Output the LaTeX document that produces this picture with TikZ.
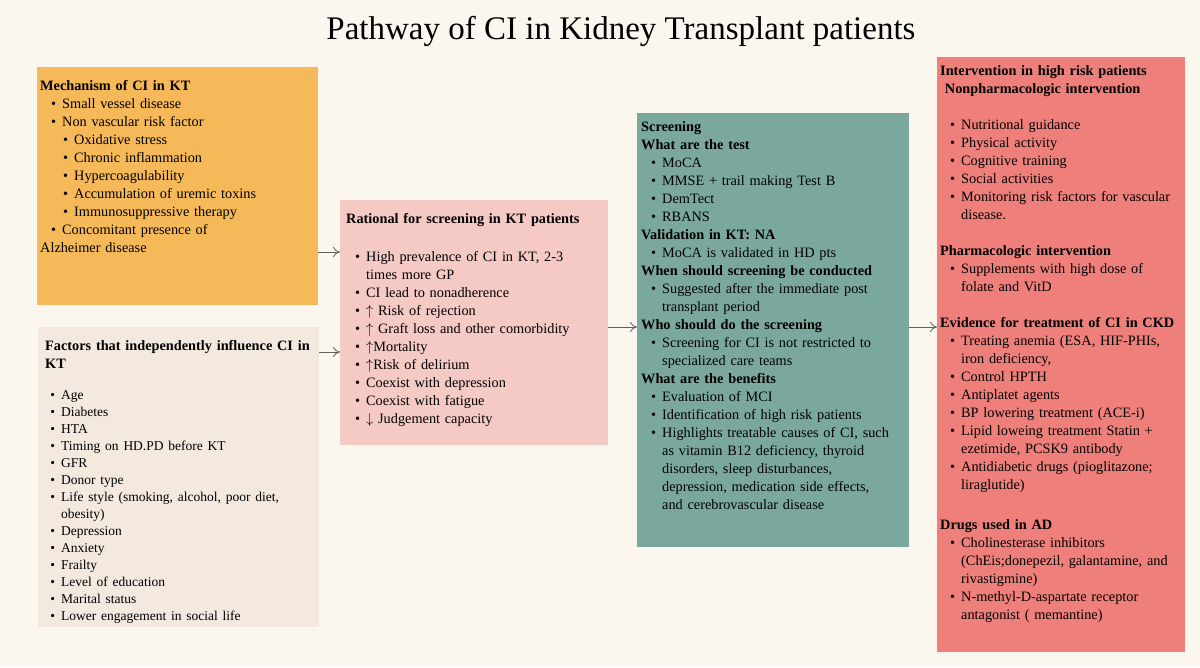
\documentclass[tikz,border=0pt]{standalone}
\usepackage{fontspec}
\setmainfont{Liberation Serif}
\usepackage{enumitem}
\usetikzlibrary{arrows.meta}
\definecolor{bgc}{HTML}{FBF7EF}
\definecolor{orangec}{HTML}{F5B95A}
\definecolor{beigec}{HTML}{F3E9DF}
\definecolor{pinkc}{HTML}{F5C9C4}
\definecolor{tealc}{HTML}{7BA89E}
\definecolor{redc}{HTML}{EE7F7A}
\setlist[itemize]{label=\textbullet,leftmargin=16pt,labelsep=6pt,itemsep=0pt,topsep=0pt,parsep=0pt,partopsep=0pt}
\setlist[itemize,2]{label=\textbullet,leftmargin=12pt}
\tikzset{
 txt/.style={anchor=north west,align=left,inner sep=0pt,font=\fontsize{14.3}{18}\selectfont},
 arr/.style={draw=gray!75!black,line width=0.8pt,-{To[length=7pt,width=10pt]}}
}
\begin{document}
\begin{tikzpicture}[x=1pt,y=-1pt]
\fill[bgc] (0,0) rectangle (1200,667);
\useasboundingbox (0,0) rectangle (1200,667);
\node[font=\fontsize{33}{38}\selectfont] (title) at (621,31) {Pathway of CI in Kidney Transplant patients};
% boxes
\fill[orangec] (37,67) rectangle (318,305);
\fill[beigec] (38,327) rectangle (319,627);
\fill[pinkc] (340,200) rectangle (608,445);
\fill[tealc] (637,113) rectangle (909,547);
\fill[redc] (937,57) rectangle (1185,652);
\coordinate (m) at (318,252); \coordinate (r1) at (340,252);
\coordinate (f) at (319,352); \coordinate (r2) at (340,352);
\coordinate (r) at (608,327); \coordinate (s1) at (637,327);
\coordinate (s) at (909,327); \coordinate (i1) at (937,327);
\draw[arr] (m) -- (r1);
\draw[arr] (f) -- (r2);
\draw[arr] (r) -- (s1);
\draw[arr] (s) -- (i1);
% mechanism
\node[txt,text width=275pt] (mech) at (40,80) {\textbf{Mechanism of CI in KT}
\begin{itemize}[leftmargin=22pt]
\item Small vessel disease
\item Non vascular risk factor
 \begin{itemize}
 \item Oxidative stress
 \item Chronic inflammation
 \item Hypercoagulability
 \item Accumulation of uremic toxins
 \item Immunosuppressive therapy
 \end{itemize}
\item Concomitant presence of
\end{itemize}
Alzheimer disease};
% factors
\node[txt,text width=275pt] (fact) at (45,340) {\textbf{Factors that independently influence CI in}\\\textbf{KT}\\[14pt]
\fontsize{13.5}{17}\selectfont
\begin{itemize}
\item Age
\item Diabetes
\item HTA
\item Timing on HD.PD before KT
\item GFR
\item Donor type
\item Life style (smoking, alcohol, poor diet,\\ obesity)
\item Depression
\item Anxiety
\item Frailty
\item Level of education
\item Marital status
\item Lower engagement in social life
\end{itemize}};
% rational
\node[txt,text width=262pt] (rat) at (346,213) {\textbf{Rational for screening in KT patients}\\[20pt]
\begin{itemize}[leftmargin=20pt]
\item High prevalence of CI in KT, 2-3\\ times more GP
\item CI lead to nonadherence
\item $\uparrow$ Risk of rejection
\item $\uparrow$ Graft loss and other comorbidity
\item $\uparrow$Mortality
\item $\uparrow$Risk of delirium
\item Coexist with depression
\item Coexist with fatigue
\item $\downarrow$ Judgement capacity
\end{itemize}};
% screening
\node[txt,text width=268pt] (scr) at (641,121) {\textbf{Screening}\\\textbf{What are the test}
\begin{itemize}[leftmargin=21pt]
\item MoCA
\item MMSE + trail making Test B
\item DemTect
\item RBANS
\end{itemize}
\textbf{Validation in KT: NA}
\begin{itemize}[leftmargin=21pt]
\item MoCA is validated in HD pts
\end{itemize}
\textbf{When should screening be conducted}
\begin{itemize}[leftmargin=21pt]
\item Suggested after the immediate post\\ transplant period
\end{itemize}
\textbf{Who should do the screening}
\begin{itemize}[leftmargin=21pt]
\item Screening for CI is not restricted to\\ specialized care teams
\end{itemize}
\textbf{What are the benefits}
\begin{itemize}[leftmargin=21pt]
\item Evaluation of MCI
\item Identification of high risk patients
\item Highlights treatable causes of CI, such\\ as vitamin B12 deficiency, thyroid\\ disorders, sleep disturbances,\\ depression, medication side effects,\\ and cerebrovascular disease
\end{itemize}};
% intervention
\node[txt,text width=245pt] (int) at (940,65) {\textbf{Intervention in high risk patients}\\\textbf{\ Nonpharmacologic intervention}\\[18pt]
\begin{itemize}[leftmargin=21pt]
\item Nutritional guidance
\item Physical activity
\item Cognitive training
\item Social activities
\item Monitoring risk factors for vascular\\ disease.
\end{itemize}
\vspace{18pt}
\textbf{Pharmacologic intervention}
\begin{itemize}[leftmargin=21pt]
\item Supplements with high dose of\\ folate and VitD
\end{itemize}
\vspace{18pt}
\textbf{Evidence for treatment of CI in CKD}
\begin{itemize}[leftmargin=21pt]
\item Treating anemia (ESA, HIF-PHIs,\\ iron deficiency,
\item Control HPTH
\item Antiplatet agents
\item BP lowering treatment (ACE-i)
\item Lipid loweing treatment Statin +\\ ezetimide, PCSK9 antibody
\item Antidiabetic drugs (pioglitazone;\\ liraglutide)
\end{itemize}
\vspace{22pt}
\textbf{Drugs used in AD}
\begin{itemize}[leftmargin=21pt]
\item Cholinesterase inhibitors\\ (ChEis;donepezil, galantamine, and\\ rivastigmine)
\item N-methyl-D-aspartate receptor\\ antagonist ( memantine)
\end{itemize}};
\end{tikzpicture}
\end{document}
